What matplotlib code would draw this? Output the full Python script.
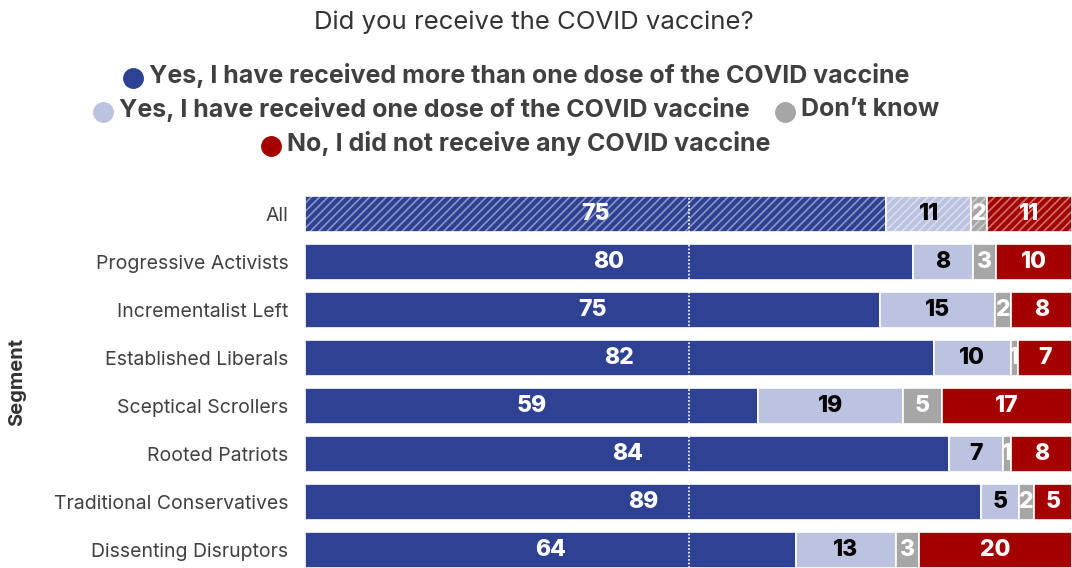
import numpy as np
import matplotlib.pyplot as plt
from matplotlib.lines import Line2D

plt.rcParams['font.family'] = ['Inter', 'DejaVu Sans']
plt.rcParams['hatch.linewidth'] = 1.2

segments = ['All', 'Progressive Activists', 'Incrementalist Left', 'Established Liberals',
            'Sceptical Scrollers', 'Rooted Patriots', 'Traditional Conservatives',
            'Dissenting Disruptors']
more_than_one = [75, 80, 75, 82, 59, 84, 89, 64]
one_dose = [11, 8, 15, 10, 19, 7, 5, 13]
dont_know = [2, 3, 2, 1, 5, 1, 2, 3]
no_vaccine = [11, 10, 8, 7, 17, 8, 5, 20]

series = [
    ('Yes, I have received more than one dose of the COVID vaccine', more_than_one, '#2e4193', 'white'),
    ('Yes, I have received one dose of the COVID vaccine', one_dose, '#bcc3e0', 'black'),
    ('Don\u2019t know', dont_know, '#a6a6a6', 'white'),
    ('No, I did not receive any COVID vaccine', no_vaccine, '#a50000', 'white'),
]

fig = plt.figure(figsize=(10.72, 5.68), dpi=100)
ax = fig.add_axes([305 / 1072, 0, 1 - 305 / 1072, 378 / 568])

y = np.arange(len(segments))
# each row is stretched to fill 100% of the width
totals = np.sum([np.array(s[1], dtype=float) for s in series], axis=0)
left = np.zeros(len(segments))
for name, vals, col, tcol in series:
    vals = np.array(vals, dtype=float)
    widths = vals / totals * 100
    ax.barh(y, widths, left=left, height=0.75, color=col, edgecolor='white', linewidth=1.2)
    # "All" row gets a hatched overlay
    ax.barh(y[:1], widths[:1], left=left[:1], height=0.75, color='none',
            edgecolor=(1, 1, 1, 0.45), hatch='////', linewidth=0)
    for yi, v, w, l in zip(y, vals, widths, left):
        ax.text(l + w / 2, yi, f'{int(v)}', ha='center', va='center', color=tcol,
                fontsize=16.5, fontweight='heavy')
    left += widths

ax.axvline(50, color='white', linestyle=(0, (1, 1)), linewidth=1.3, alpha=0.9, zorder=5)

ax.set_xlim(0, 100)
ax.set_ylim(7.375, -0.5)
ax.set_yticks(y)
ax.set_yticklabels(segments, fontsize=14, color='#404040')
ax.tick_params(axis='y', length=0, pad=12)
ax.set_xticks([])
for s in ax.spines.values():
    s.set_visible(False)

fig.text(17 / 1072, 1 - 382 / 568, 'Segment', rotation=90, ha='center', va='center',
         fontsize=14.5, fontweight='bold', color='#333333')

fig.text(534 / 1072, 1 - 22 / 568, 'Did you receive the COVID vaccine?', ha='center', va='center',
         fontsize=18.5, color='#333333')

# legend rows, laid out by hand and centred
rows = [[0], [1, 2], [3]]
row_y = [75, 109, 143]
renderer = fig.canvas.get_renderer()
marker_w = 26
gap = 26
for row, ypx in zip(rows, row_y):
    items = []
    for i in row:
        t = fig.text(0, 0, series[i][0], fontsize=18, fontweight='bold', color='#404040')
        w = t.get_window_extent(renderer).width
        items.append((t, w, series[i][2]))
    total = sum(marker_w + w for _, w, _ in items) + gap * (len(items) - 1)
    x = 516 - total / 2
    for t, w, col in items:
        fig.add_artist(Line2D([(x + 10) / 1072], [1 - (ypx + 3) / 568], marker='o', markersize=14,
                              color=col, transform=fig.transFigure, linestyle='none'))
        t.set_position(((x + marker_w) / 1072, 1 - ypx / 568))
        t.set_va('center')
        x += marker_w + w + gap

fig.savefig('out.png', dpi=100)
